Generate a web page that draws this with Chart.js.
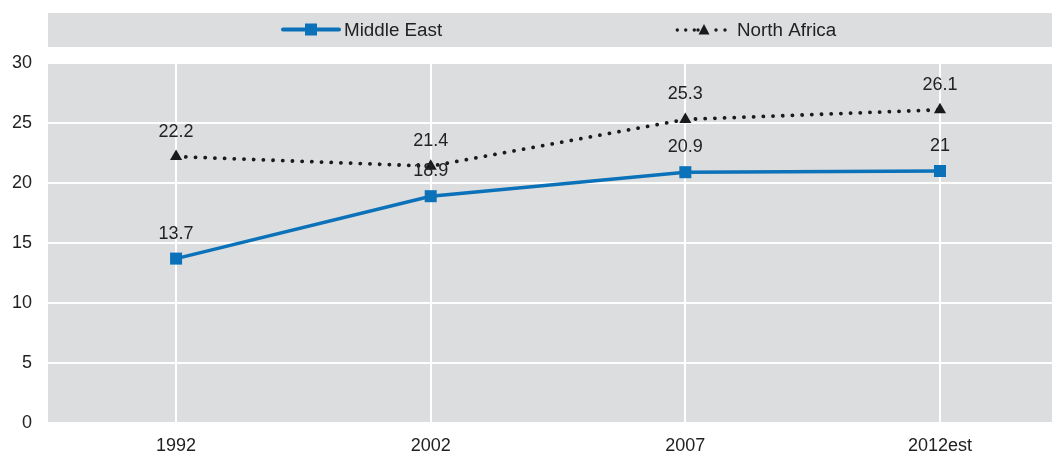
<!DOCTYPE html>
<html><head><meta charset="utf-8">
<script src="https://cdn.jsdelivr.net/npm/chart.js@4.4.0/dist/chart.umd.min.js"></script>
<style>html,body{margin:0;padding:0;background:#fff}#wrap{width:1052px;height:455px}</style>
</head><body><div id="wrap"><canvas id="c" width="1052" height="455"></canvas></div>
<script>
const categories = ['1992', '2002', '2007', '2012est'];
const middleEast = [13.7, 18.9, 20.9, 21];
const northAfrica = [22.2, 21.4, 25.3, 26.1];
const yTicks = [0, 5, 10, 15, 20, 25, 30];

const BLUE = '#0b72ba';
const DARK = '#1a1a1a';
const FONT = '"Liberation Sans", Arial, sans-serif';

const bgPlugin = {
  id: 'bg',
  beforeDraw(chart) {
    const {ctx, chartArea: a} = chart;
    ctx.save();
    ctx.fillStyle = '#dcdddf';
    ctx.fillRect(a.left, a.top, a.right - a.left, a.bottom - a.top);
    ctx.fillRect(a.left, 13, a.right - a.left, 34);
    ctx.restore();
  },
  afterDraw(chart) {
    const {ctx} = chart;
    ctx.save();
    const ly = 29.5;
    ctx.strokeStyle = BLUE; ctx.lineWidth = 4; ctx.lineCap = 'round';
    ctx.beginPath(); ctx.moveTo(283, ly); ctx.lineTo(339, ly); ctx.stroke();
    ctx.fillStyle = BLUE; ctx.fillRect(305, ly - 6, 12, 12);
    ctx.fillStyle = '#222'; ctx.font = '18.8px ' + FONT; ctx.textBaseline = 'middle'; ctx.textAlign = 'left';
    ctx.fillText('Middle East', 344, ly + 1);
    ctx.fillStyle = DARK;
    [677.3, 685.7, 694.3, 698, 716, 725].forEach(x => { ctx.beginPath(); ctx.arc(x, 30, 1.7, 0, Math.PI * 2); ctx.fill(); });
    ctx.beginPath(); ctx.moveTo(704, 24); ctx.lineTo(709.5, 34.5); ctx.lineTo(698.5, 34.5); ctx.closePath(); ctx.fill();
    ctx.fillStyle = '#222';
    ctx.fillText('North Africa', 737, ly + 1);
    ctx.restore();
  }
};

const labelPlugin = {
  id: 'vals',
  afterDatasetsDraw(chart) {
    const {ctx} = chart;
    ctx.save();
    ctx.font = '18px ' + FONT; ctx.fillStyle = '#222'; ctx.textAlign = 'center'; ctx.textBaseline = 'middle';
    chart.data.datasets.forEach((ds, i) => {
      chart.getDatasetMeta(i).data.forEach((pt, j) => {
        ctx.fillText(String(ds.data[j].y), pt.x, pt.y - 25);
      });
    });
    ctx.restore();
  }
};

new Chart(document.getElementById('c'), {
  type: 'line',
  data: {
    datasets: [
      {
        label: 'Middle East',
        data: middleEast.map((v, i) => ({x: i, y: v})),
        borderColor: BLUE, backgroundColor: BLUE, borderWidth: 3.5,
        pointStyle: 'rect', pointRadius: 8.5, pointHoverRadius: 8.5, pointBorderWidth: 0,
        tension: 0, clip: false
      },
      {
        label: 'North Africa',
        data: northAfrica.map((v, i) => ({x: i, y: v})),
        borderColor: DARK, backgroundColor: DARK, borderWidth: 3.8,
        borderDash: [0.1, 9.6], borderCapStyle: 'round',
        pointStyle: 'triangle', pointRadius: 7, pointHoverRadius: 7, pointBorderWidth: 0,
        tension: 0, clip: false
      }
    ]
  },
  options: {
    responsive: false, animation: false, devicePixelRatio: 1,
    layout: {autoPadding: false, padding: {top: 63, right: 0, left: 0, bottom: 0}},
    plugins: {legend: {display: false}, tooltip: {enabled: false}},
    scales: {
      x: {
        type: 'linear', min: -0.503, max: 3.44,
        afterBuildTicks(s) { s.ticks = categories.map((c, i) => ({value: i})); },
        afterFit(s) { s.height = 32; s.paddingLeft = 0; s.paddingRight = 0; },
        grid: {color: '#ffffff', lineWidth: 2, drawTicks: false},
        border: {display: false},
        ticks: {callback: (v) => categories[v], color: '#222', font: {family: FONT, size: 18}, padding: 12, maxRotation: 0, autoSkip: false}
      },
      y: {
        min: 0, max: 30,
        afterBuildTicks(s) { s.ticks = yTicks.map(v => ({value: v})); },
        afterFit(s) { s.width = 48; s.paddingTop = 0; s.paddingBottom = 0; },
        grid: {color: '#ffffff', lineWidth: 2, drawTicks: false},
        border: {display: false},
        ticks: {color: '#222', font: {family: FONT, size: 18}, padding: 16}
      }
    }
  },
  plugins: [bgPlugin, labelPlugin]
});
</script></body></html>
